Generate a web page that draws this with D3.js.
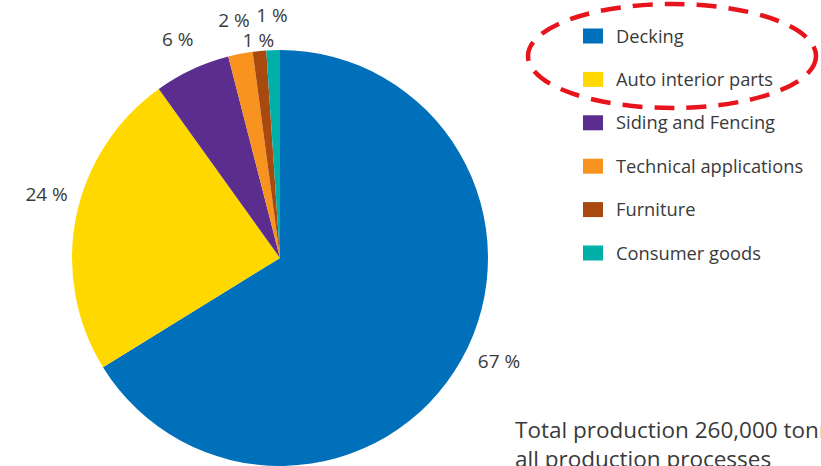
<!DOCTYPE html>
<html><head><meta charset="utf-8">
<script src="https://cdn.jsdelivr.net/npm/d3@7"></script>
<style>
html,body{margin:0;padding:0;background:#fff;overflow:hidden;}
svg{display:block;}
text{font-family:"Open Sans",sans-serif;fill:#3a3a3a;}
</style></head>
<body>
<script>
const categories = ["Decking","Auto interior parts","Siding and Fencing","Technical applications","Furniture","Consumer goods"];
const values = [66.2, 23.9, 5.9, 1.9, 1.05, 1.05];
const valueLabels = ["67 %","24 %","6 %","2 %","1 %","1 %"];
const colors = ["#0070ba","#ffd800","#5b2d8e","#f7931e","#a84a10","#00b0a8"];
const noteLines = ["Total production 260,000 tonnes","all production processes"];

const W = 821, H = 466;
const svg = d3.select("body").append("svg").attr("width", W).attr("height", H);

const cx = 280, cy = 258, R = 208;
const pie = d3.pie().sort(null).value(d => d);
const arcs = pie(values);
const arc = d3.arc().innerRadius(0).outerRadius(R);

const g = svg.append("g").attr("transform", `translate(${cx},${cy})`);
g.selectAll("path").data(arcs).enter().append("path")
  .attr("d", arc).attr("fill", (d,i) => colors[i]);

// labels (furniture label staggered inward; the two large labels nudged)
const labelR = i => (i === 4 ? R + 11 : i === 5 ? R + 35 : R + 34);
const nudge = i => (i === 0 ? -4 : i === 1 ? 4 : 0) * Math.PI / 180;
const labAng = (d,i) => (d.startAngle + d.endAngle) / 2 + nudge(i);
g.selectAll("text.lbl").data(arcs).enter().append("text")
  .attr("class","lbl")
  .attr("x", (d,i) => Math.sin(labAng(d,i)) * labelR(i))
  .attr("y", (d,i) => -Math.cos(labAng(d,i)) * labelR(i))
  .attr("text-anchor","middle").attr("dy","0.36em")
  .style("font-size","19px")
  .text((d,i) => valueLabels[i]);

// legend
const legY = d3.scalePoint().domain(categories).range([36, 253]);
const leg = svg.append("g");
const rows = leg.selectAll("g").data(categories).enter().append("g")
  .attr("transform", d => `translate(583,${legY(d)})`);
rows.append("rect").attr("x",0).attr("y",-7.5).attr("width",20).attr("height",15)
  .attr("fill",(d,i)=>colors[i]);
rows.append("text").attr("x",33).attr("y",0).attr("dy","0.36em")
  .style("font-size","18.3px").text(d => d);

// dashed ellipse
svg.append("ellipse").attr("cx",672).attr("cy",56).attr("rx",144).attr("ry",52)
  .attr("fill","none").attr("stroke","#e8141b").attr("stroke-width",4.5)
  .attr("stroke-dasharray","20,12");

// note
svg.append("g").selectAll("text").data(noteLines).enter().append("text")
  .attr("x",515).attr("y",(d,i)=>438 + i*29)
  .style("font-size","22.5px").text(d=>d);
</script>
</body></html>
